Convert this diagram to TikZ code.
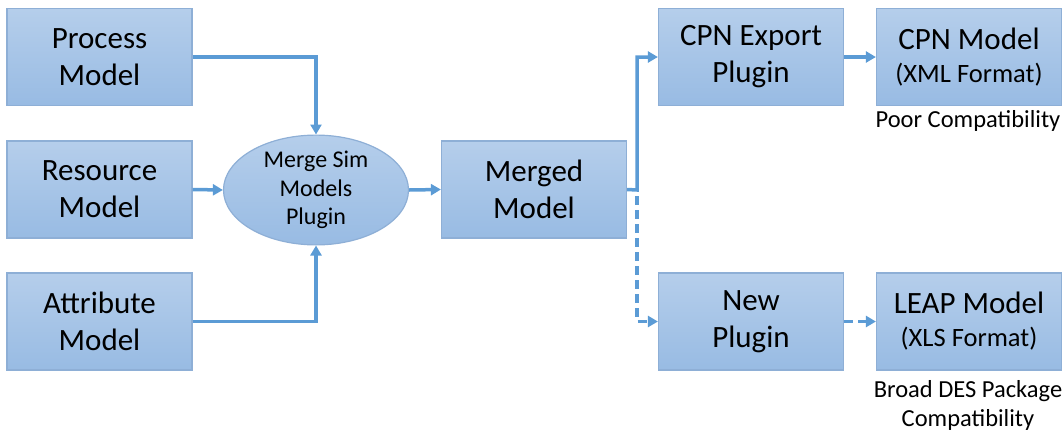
\documentclass[tikz,border=0pt]{standalone}
\usepackage{fontspec}
\setmainfont{Carlito}
\usetikzlibrary{shapes.geometric,arrows.meta}
\definecolor{lineblue}{HTML}{5B9BD5}
\definecolor{boxtop}{HTML}{B5CEEB}
\definecolor{boxbot}{HTML}{98BBE3}
\definecolor{boxedge}{HTML}{8EAFD6}
\newcommand{\subline}[1]{\fontsize{26.5}{33}\selectfont #1}
\tikzset{
  x=1pt,y=-1pt,
  box/.style={draw=boxedge, line width=1.2pt, top color=boxtop, bottom color=boxbot,
    minimum width=185pt, minimum height=97pt, align=center, inner sep=0pt,
    font=\fontsize{31}{37}\selectfont},
  oval/.style={ellipse, draw=boxedge, line width=1.2pt, top color=boxtop, bottom color=boxbot,
    minimum width=185pt, minimum height=97pt, align=center, inner sep=0pt,
    font=\fontsize{24}{28.5}\selectfont},
  note/.style={align=center, inner sep=0pt, font=\fontsize{24.5}{29}\selectfont},
  conn/.style={draw=lineblue, line width=3.5pt, -{Triangle[length=10pt,width=11pt]}},
  dconn/.style={conn, dash pattern=on 9pt off 5pt},
}
\begin{document}
\begin{tikzpicture}
\useasboundingbox (0,0) rectangle (1064,434);
\node[box] (proc) at (99.5,57) {Process\\Model};
\node[box] (res) at (99.5,189.5) {Resource\\Model};
\node[box] (attr) at (99.5,321.5) {Attribute\\Model};
\node[oval] (merge) at (316,190) {Merge Sim\\Models\\Plugin};
\node[box] (merged) at (534,189.5) {Merged\\Model};
\node[box] (cpnexp) at (751,57) {CPN Export\\Plugin};
\node[box] (newp) at (751,321.5) {New\\Plugin};
\node[box] (cpnm) at (969,57) {CPN Model\\[-4pt]\subline{(XML Format)}};
\node[box] (leap) at (969,321.5) {LEAP Model\\[-4pt]\subline{(XLS Format)}};
\node[note] (c1) at (968,121) {Poor Compatibility};
\node[note] (c2) at (968,405) {Broad DES Package\\Compatibility};
\coordinate (sp) at (637,190);
\draw[conn] (proc.east) -| (merge.north);
\draw[conn] (attr.east) -| (merge.south);
\draw[conn] (res.east) -- (merge.west);
\draw[conn] (merge.east) -- (merged.west);
\draw[conn] (merged.east) -- (sp) |- (cpnexp.west);
\draw[dconn] (sp) ++(0,6) |- (newp.west);
\draw[conn] (cpnexp.east) -- (cpnm.west);
\draw[dconn] (newp.east) -- (leap.west);
\end{tikzpicture}
\end{document}
